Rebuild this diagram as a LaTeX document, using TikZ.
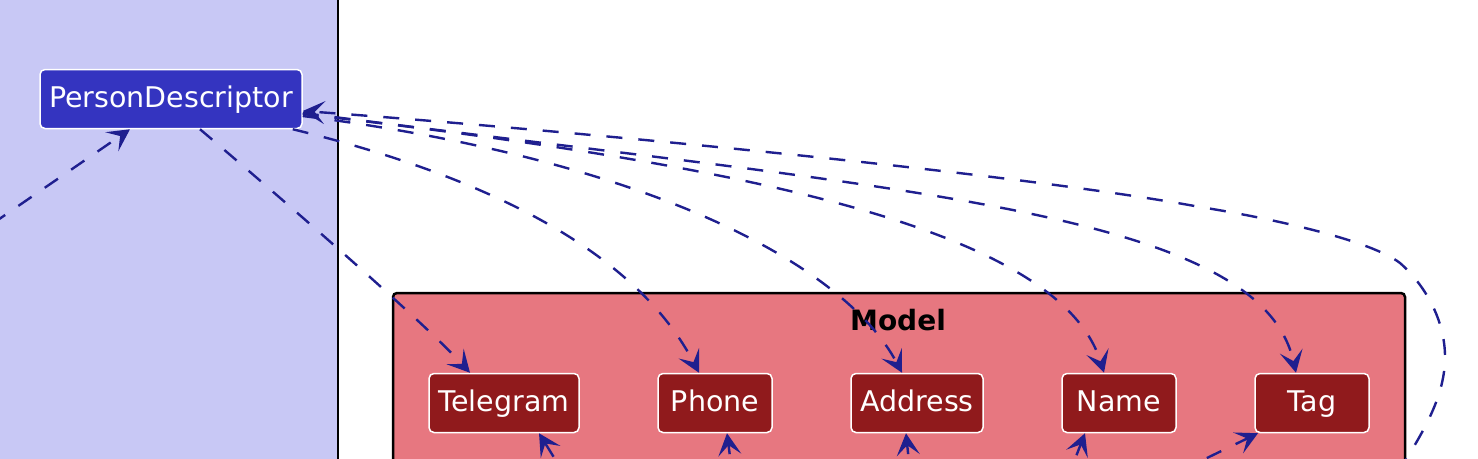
\documentclass[tikz,border=0pt]{standalone}
\usepackage{fontspec}
\setmainfont{DejaVu Sans}
\usetikzlibrary{arrows.meta}
\definecolor{lav}{HTML}{C8C8F5}
\definecolor{pdblue}{HTML}{3434C0}
\definecolor{modelred}{HTML}{E77780}
\definecolor{nodered}{HTML}{901A1C}
\definecolor{edgeblue}{HTML}{1F1F8F}
\begin{document}
\begin{tikzpicture}[x=1pt,y=-1pt,
  box/.style={draw=white, line width=1.5pt, rounded corners=5pt, text=white,
    font=\fontsize{28.5}{34}\selectfont, inner sep=0pt, minimum height=59pt,
    text height=22pt, text depth=6pt},
  redbox/.style={box, fill=nodered},
  dep/.style={draw=edgeblue, line width=2.4pt, dash pattern=on 16pt off 16pt,
    -{Stealth[length=22pt,width=23pt,inset=10pt]}},
  pkgtitle/.style={font=\bfseries\fontsize{28}{34}\selectfont, anchor=base}
]
\useasboundingbox (0,0) rectangle (1478,458);
\clip (0,0) rectangle (1478,458);
\fill[white] (0,0) rectangle (1478,458);
% left package
\fill[lav] (-20,-20) rectangle (338,480);
\draw[black, line width=2.5pt] (338,-20) -- (338,480);
% Model package
\draw[black, line width=2.5pt, fill=modelred, rounded corners=4pt] (393,293) rectangle (1405,500);
\node[pkgtitle] (mtitle) at (898,330) {Model};
% nodes
\node[box, fill=pdblue, minimum width=262pt] (pd) at (171,99) {PersonDescriptor};
\node[redbox, minimum width=150pt] (tel) at (504,403) {Telegram};
\node[redbox, minimum width=114pt] (pho) at (715,403) {Phone};
\node[redbox, minimum width=132pt] (adr) at (917,403) {Address};
\node[redbox, minimum width=114pt] (nam) at (1119,403) {Name};
\node[redbox, minimum width=114pt] (tag) at (1312,403) {Tag};
% off-picture ends
\coordinate (o1) at (-8,224);
\coordinate (o2) at (563,472);
\coordinate (o3) at (732,472);
\coordinate (o4) at (910,472);
\coordinate (o5) at (1070,472);
\coordinate (o6) at (1178,472);
\coordinate (o7) at (1398,472);
% connectors
\draw[dep] (o1) -- ([xshift=-41pt]pd.south);
\draw[dep] ([xshift=29pt]pd.south) .. controls (260,180) and (420,318) .. ([xshift=-34pt]tel.north);
\draw[dep] ([xshift=-10pt]pd.south east) .. controls (460,170) and (630,240) .. ([xshift=-16pt]pho.north);
\draw[dep] ([yshift=-17pt]pd.east) .. controls (650,160) and (845,265) .. ([xshift=-15pt]adr.north);
\draw[dep] ([yshift=-15pt]pd.east) .. controls (750,165) and (1060,230) .. ([xshift=-15pt]nam.north);
\draw[dep] ([yshift=-14pt]pd.east) .. controls (900,190) and (1260,210) .. ([xshift=-16pt]tag.north);
\draw[dep] (o7) .. controls (1425,430) and (1445,395) .. (1445,357)
  .. controls (1445,320) and (1425,285) .. (1400,263)
  .. controls (1370,240) and (1270,218) .. (1200,207)
  .. controls (1000,170) and (500,125) .. ([yshift=-12pt]pd.east);
\draw[dep, dash phase=14pt] (o2) -- ([xshift=35pt]tel.south);
\draw[dep, dash phase=14pt] (o3) -- ([xshift=12pt]pho.south);
\draw[dep, dash phase=14pt] (o4) -- ([xshift=-11pt]adr.south);
\draw[dep, dash phase=14pt] (o5) -- ([xshift=-34pt]nam.south);
\draw[dep] (o6) -- ([xshift=-54pt]tag.south);
\end{tikzpicture}
\end{document}
